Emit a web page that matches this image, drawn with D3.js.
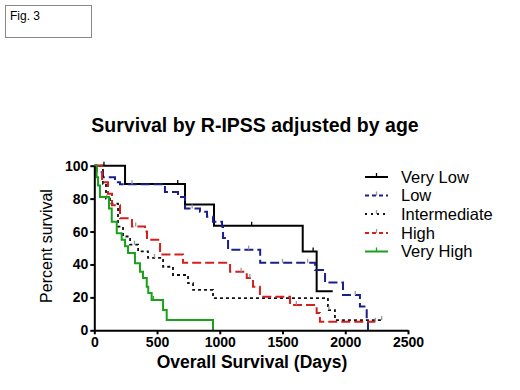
<!DOCTYPE html>
<html><head><meta charset="utf-8">
<script src="https://cdn.jsdelivr.net/npm/d3@7"></script>
<style>body{margin:0;background:#fff;}svg{display:block;font-family:"Liberation Sans",Arial,sans-serif;}</style>
</head><body>
<script>
// Data (days, percent survival)
const seriesNames = ["Very Low","Low","Intermediate","High","Very High"];
const veryLowT = [0,245,723,954,1661,1772,1900];
const veryLowS = [100,88.9,76.5,63.5,47.8,23.7,23.7];
const veryLowCens = [77,665,1254,1744];
const lowT = [0,19,69,165,205,563,667,723,842,898,946,1018,1026,1066,1322,1760,1839,1982,2117,2171,2181];
const lowS = [100,96,93,90,88.7,84,81,74,72,69,66,63,56,49,41,36.6,29,21.4,14.4,6,0];
const lowCens = [300,780,1230,1500,1700,2080];
const intT = [0,69,93,125,189,229,285,349,428,548,627,747,787,946,1862,1918,2290];
const intS = [100,89,80,77,63,57,52,48,44,38.6,33.6,28.6,24.5,19.6,12.3,6.2,6.2];
const intCens = [100,320,480,1870,2290];
const highT = [0,62,109,141,205,300,404,420,524,707,1082,1215,1265,1320,1560,1772,1798,2240];
const highS = [100,90,83,76,68,63,60,55,46,41,35.6,31.7,26.5,20.4,15.4,10.5,5.2,5.2];
const highCens = [330,1170,1240,1610,2240];
const vhT = [0,19,30,45,117,139,179,218,245,269,324,364,388,418,430,457,548,577,946];
const vhS = [100,93,88,81,74,66,59,55,51,47,40.7,35.6,31.7,26.5,22.6,18.4,12.3,6.3,0];
const vhCens = [470];
const xTicks = [0,500,1000,1500,2000,2500];
const yTicks = [0,20,40,60,80,100];

const W=520,H=390;
const svg=d3.select("body").append("svg").attr("width",W).attr("height",H);
svg.append("rect").attr("x",5.5).attr("y",5.5).attr("width",86).attr("height",32).attr("fill","none").attr("stroke","#888");
svg.append("text").attr("x",10).attr("y",20).attr("font-size",12).text("Fig. 3");

const x=d3.scaleLinear().domain([0,2500]).range([94.3,408]);
const y=d3.scaleLinear().domain([0,100]).range([330.3,165.7]);

svg.append("text").attr("x",255).attr("y",132).attr("text-anchor","middle").attr("font-size",19.5).attr("font-weight","bold").text("Survival by R-IPSS adjusted by age");

const styles=[
 {t:veryLowT,s:veryLowS,c:veryLowCens,color:"#000",dash:null,w:2},
 {t:lowT,s:lowS,c:lowCens,color:"#1a1f8a",dash:"9,4",w:2},
 {t:intT,s:intS,c:intCens,color:"#111",dash:"3,3",w:1.8},
 {t:highT,s:highS,c:highCens,color:"#d02020",dash:"9,4",w:2},
 {t:vhT,s:vhS,c:vhCens,color:"#1aa01a",dash:null,w:2}
];
const line=d3.line().x(d=>x(d[0])).y(d=>y(d[1])).curve(d3.curveStepAfter);
function survAt(T,S,t){let v=S[0];for(let i=0;i<T.length;i++){if(T[i]<=t)v=S[i];}return v;}
const g=svg.append("g");
styles.forEach(st=>{
  const pts=st.t.map((t,i)=>[t,st.s[i]]);
  g.append("path").attr("d",line(pts)).attr("fill","none").attr("stroke",st.color).attr("stroke-width",st.w).attr("stroke-dasharray",st.dash);
  st.c.forEach(t=>{const v=survAt(st.t,st.s,t);
    g.append("line").attr("x1",x(t)).attr("x2",x(t)).attr("y1",y(v)).attr("y2",y(v)-4).attr("stroke",st.dash?"#999":st.color).attr("stroke-width",1.3);});
});

const xa=svg.append("g").attr("transform","translate(0,330.3)").call(d3.axisBottom(x).tickValues(xTicks).tickFormat(d3.format("d")).tickSize(4).tickPadding(3).tickSizeOuter(0));
const ya=svg.append("g").attr("transform","translate(94.3,0)").call(d3.axisLeft(y).tickValues(yTicks).tickSize(4).tickPadding(2).tickSizeOuter(0));
[xa,ya].forEach(a=>{a.select(".domain").attr("stroke","#000").attr("stroke-width",2);a.selectAll(".tick line").attr("stroke","#000").attr("stroke-width",2);
  a.selectAll("text").attr("font-size",14).attr("font-weight","bold").attr("fill","#000").attr("font-family","Liberation Sans, Arial, sans-serif");});

svg.append("text").attr("x",252).attr("y",368).attr("text-anchor","middle").attr("font-size",17.5).attr("font-weight","bold").text("Overall Survival (Days)");
svg.append("text").attr("transform","translate(52,246) rotate(-90)").attr("text-anchor","middle").attr("font-size",16).text("Percent survival");

const legY=[177,195.5,214,233,251.5];
styles.forEach((st,i)=>{
  const lg=svg.append("g");
  lg.append("line").attr("x1",365).attr("x2",388).attr("y1",legY[i]).attr("y2",legY[i]).attr("stroke",st.color).attr("stroke-width",st.w).attr("stroke-dasharray",st.dash?(st.dash=="3,3"?"2,4":"4,3"):null);
  lg.append("line").attr("x1",376.5).attr("x2",376.5).attr("y1",legY[i]).attr("y2",legY[i]-4).attr("stroke",st.dash?"#999":st.color).attr("stroke-width",1.3);
  lg.append("text").attr("x",401).attr("y",legY[i]).attr("dy","0.35em").attr("font-size",16.5).text(seriesNames[i]);
});
</script>
</body></html>
